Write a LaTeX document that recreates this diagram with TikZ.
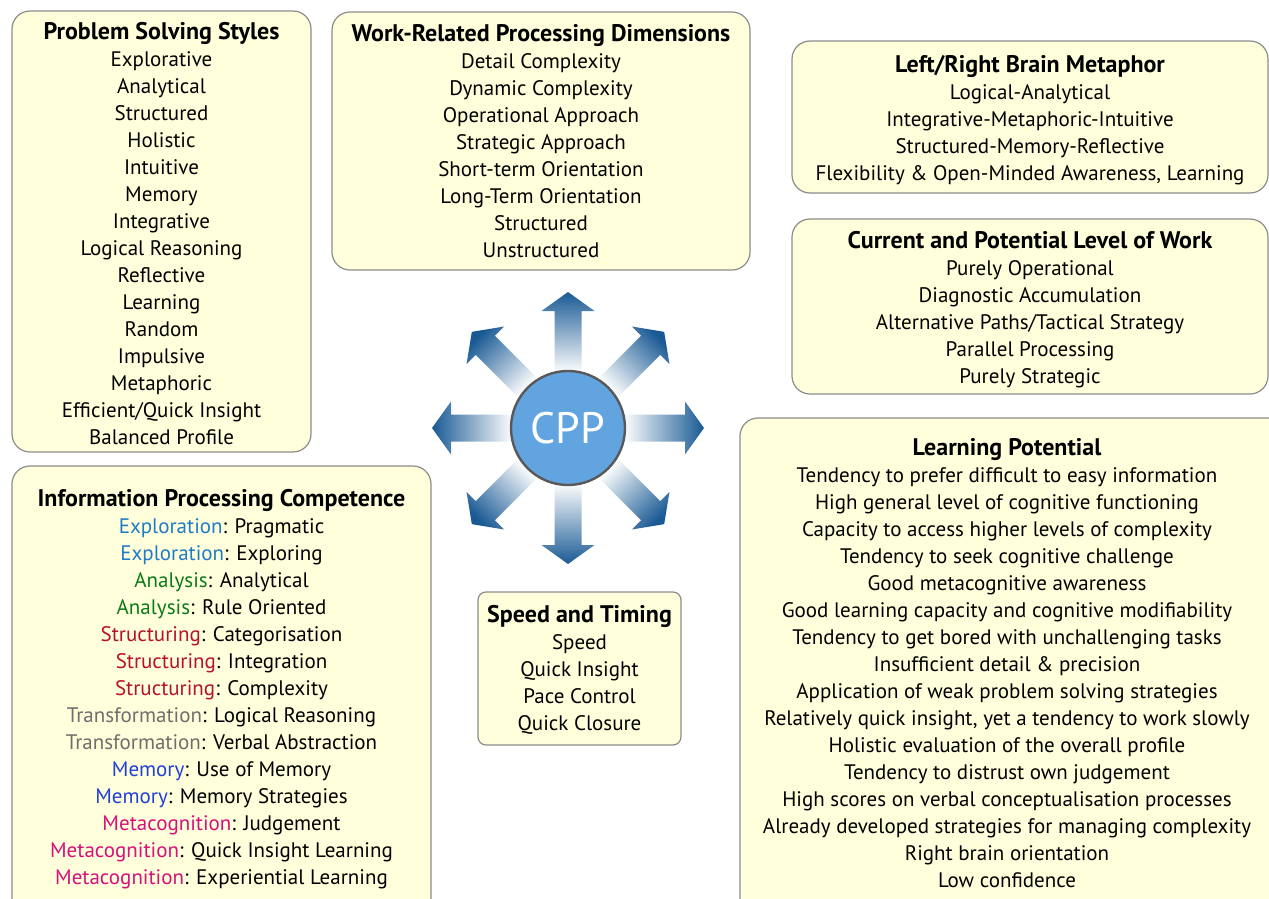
\documentclass[tikz,border=0pt]{standalone}
\usepackage{fontspec}
\setmainfont{PT Sans}
\usetikzlibrary{positioning}
\definecolor{PanelFill}{HTML}{FFFFDB}
\definecolor{PanelLine}{HTML}{8C8C8C}
\definecolor{ArrowBlue}{HTML}{1A5A94}
\definecolor{CppBlue}{HTML}{62A4E0}
\definecolor{ExploBlue}{HTML}{1F7BC8}
\definecolor{AnalGreen}{HTML}{0A7A1A}
\definecolor{StructRed}{HTML}{B8102E}
\definecolor{TransGray}{HTML}{6E6E6E}
\definecolor{MemBlue}{HTML}{2040D8}
\definecolor{MetaPink}{HTML}{D8107A}
\newcommand{\explo}{\textcolor{ExploBlue}{Exploration}}
\newcommand{\anal}{\textcolor{AnalGreen}{Analysis}}
\newcommand{\struc}{\textcolor{StructRed}{Structuring}}
\newcommand{\trans}{\textcolor{TransGray}{Transformation}}
\newcommand{\memo}{\textcolor{MemBlue}{Memory}}
\newcommand{\meta}{\textcolor{MetaPink}{Metacognition}}
\newcommand{\boxtitle}[1]{{\fontsize{12}{13.5}\selectfont\bfseries #1}}

\begin{document}
\begin{tikzpicture}[x=0.5pt, y=0.5pt,
    panel/.style={draw=PanelLine, fill=PanelFill, line width=0.6pt, rounded corners=9pt},
    boxtext/.style={anchor=north, align=center, inner sep=0pt,
      font=\fontsize{10.5}{13.5}\selectfont}]
  \useasboundingbox (0,0) rectangle (1269,-899);
  \clip (0,0) rectangle (1269,-899);
  % panels
  \draw[panel] (12,-11) rectangle (311,-452);
  \draw[panel] (332,-12) rectangle (750,-270);
  \draw[panel] (792,-41) rectangle (1268,-193);
  \draw[panel] (792,-219) rectangle (1268,-394);
  \draw[panel] (740,-418) rectangle (1290,-930);
  \draw[panel] (12,-466) rectangle (431,-930);
  \draw[panel, rounded corners=4pt] (478,-592) rectangle (681,-745);
  % arrows round the centre
  \foreach \ang [evaluate=\ang as \sang using \ang-90] in {0,45,...,315}{
    \begin{scope}[shift={(568,-428)}, rotate=\ang]
      \shade[bottom color=white, top color=ArrowBlue, shading angle=\sang]
        (55,-13.5) -- (117,-13.5) -- (117,-26.5) -- (136,0)
        -- (117,26.5) -- (117,13.5) -- (55,13.5) -- cycle;
    \end{scope}
  }
  \node[circle, minimum size=57pt, fill=CppBlue, draw=black!65, line width=1.2pt,
    text=white, font=\fontsize{22}{22}\selectfont] (cpp) at (568,-428) {CPP};
  % panel texts
  \node[boxtext] (styles) at (161.5,-22) {\boxtitle{Problem Solving Styles}\\
    Explorative\\ Analytical\\ Structured\\ Holistic\\ Intuitive\\ Memory\\
    Integrative\\ Logical Reasoning\\ Reflective\\ Learning\\ Random\\
    Impulsive\\ Metaphoric\\ Efficient/Quick Insight\\ Balanced Profile};
  \node[boxtext] (dims) at (541,-24) {\boxtitle{Work-Related Processing Dimensions}\\
    Detail Complexity\\ Dynamic Complexity\\ Operational Approach\\
    Strategic Approach\\ Short-term Orientation\\ Long-Term Orientation\\
    Structured\\ Unstructured};
  \node[boxtext] (brain) at (1030,-55) {\boxtitle{Left/Right Brain Metaphor}\\
    Logical-Analytical\\ Integrative-Metaphoric-Intuitive\\
    Structured-Memory-Reflective\\
    Flexibility \& Open-Minded Awareness, Learning};
  \node[boxtext] (level) at (1030,-231) {\boxtitle{Current and Potential Level of Work}\\
    Purely Operational\\ Diagnostic Accumulation\\
    Alternative Paths/Tactical Strategy\\ Parallel Processing\\ Purely Strategic};
  \node[boxtext] (learn) at (1007,-438) {\boxtitle{Learning Potential}\\
    Tendency to prefer difficult to easy information\\
    High general level of cognitive functioning\\
    Capacity to access higher levels of complexity\\
    Tendency to seek cognitive challenge\\
    Good metacognitive awareness\\
    Good learning capacity and cognitive modifiability\\
    Tendency to get bored with unchallenging tasks\\
    Insufficient detail \& precision\\
    Application of weak problem solving strategies\\
    Relatively quick insight, yet a tendency to work slowly\\
    Holistic evaluation of the overall profile\\
    Tendency to distrust own judgement\\
    High scores on verbal conceptualisation processes\\
    Already developed strategies for managing complexity\\
    Right brain orientation\\
    Low confidence};
  \node[boxtext] (ipc) at (221.5,-489) {\boxtitle{Information Processing Competence}\\
    \explo: Pragmatic\\ \explo: Exploring\\
    \anal: Analytical\\ \anal: Rule Oriented\\
    \struc: Categorisation\\ \struc: Integration\\ \struc: Complexity\\
    \trans: Logical Reasoning\\ \trans: Verbal Abstraction\\
    \memo: Use of Memory\\ \memo: Memory Strategies\\
    \meta: Judgement\\ \meta: Quick Insight Learning\\
    \meta: Experiential Learning};
  \node[boxtext] (speed) at (579.5,-605) {\boxtitle{Speed and Timing}\\
    Speed\\ Quick Insight\\ Pace Control\\ Quick Closure};
\end{tikzpicture}
\end{document}
